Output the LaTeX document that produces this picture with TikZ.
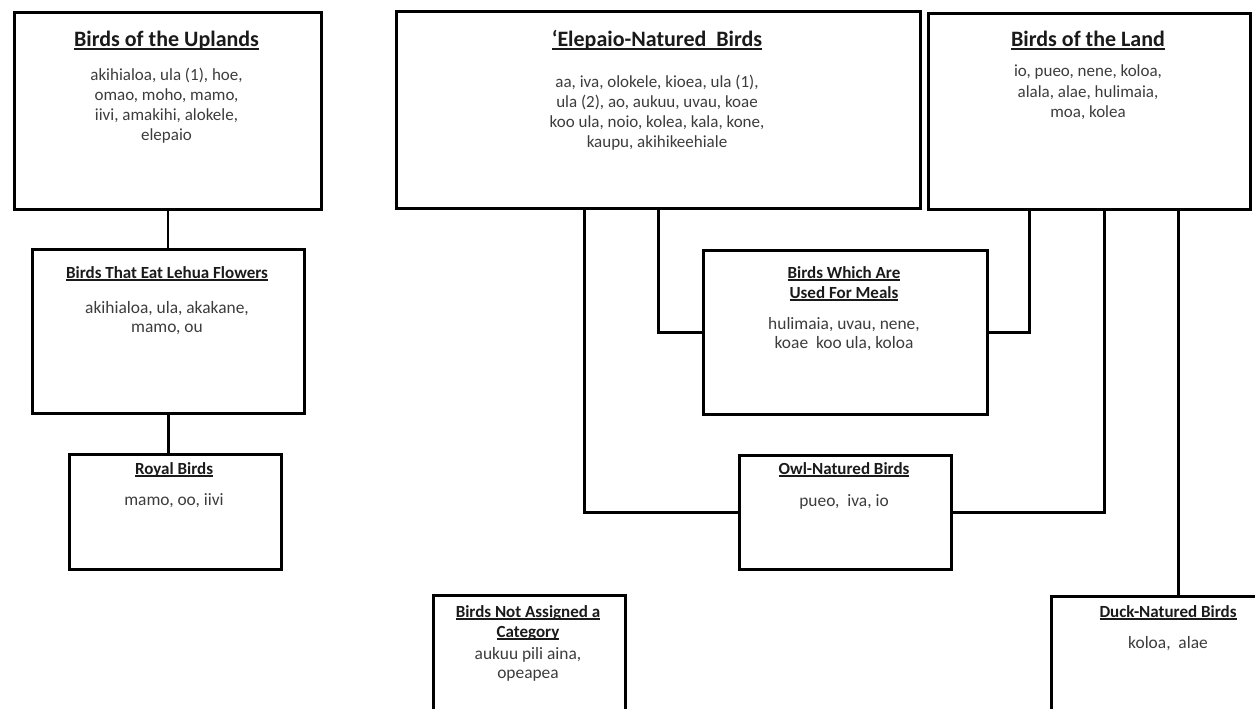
\documentclass[tikz,border=0pt]{standalone}
\usepackage{fontspec}
\setmainfont{Carlito}
\definecolor{bodygray}{HTML}{3C3C3C}
\definecolor{titleblack}{HTML}{1A1A1A}
\newcommand\myul[1]{\setbox0=\hbox{#1}\rlap{\rule[-2.6pt]{\wd0}{1.3pt}}\box0}
\tikzset{
  box/.style={draw=black, line width=2.8pt, rectangle, inner sep=0pt, anchor=north west},
  conn/.style={draw=black, line width=2.8pt},
  bigtitle/.style={font=\fontsize{22}{26}\selectfont\bfseries, text=titleblack, inner sep=0pt, anchor=base, align=center},
  smalltitle/.style={font=\fontsize{17}{20}\selectfont\bfseries, text=titleblack, inner sep=0pt, anchor=base, align=center},
  bodytext/.style={font=\fontsize{17}{20}\selectfont, text=bodygray, inner sep=0pt, anchor=base, align=center},
  smallbody/.style={font=\fontsize{17.4}{19}\selectfont, text=bodygray, inner sep=0pt, anchor=base, align=center},
}
\begin{document}
\begin{tikzpicture}[x=1pt,y=-1pt]
\useasboundingbox (0,0) rectangle (1255,709);
\clip (0,0) rectangle (1255,709);

% boxes
\node[box, minimum width=307pt, minimum height=197pt] (up) at (13,11) {};
\node[box, minimum width=524pt, minimum height=197pt] (el) at (395,10) {};
\node[box, minimum width=322pt, minimum height=196pt] (land) at (927,12) {};
\node[box, minimum width=272pt, minimum height=164pt] (leh) at (31,248) {};
\node[box, minimum width=212pt, minimum height=115pt] (roy) at (68,453) {};
\node[box, minimum width=284pt, minimum height=164pt] (meal) at (702,249) {};
\node[box, minimum width=212pt, minimum height=114pt] (owl) at (738,454) {};
\node[box, minimum width=192pt, minimum height=170pt] (na) at (432,594) {};
\node[box, minimum width=260pt, minimum height=170pt] (duck) at (1050,595) {};

% texts (anchor=base is the baseline of the last line)
\node[bigtitle] (upT) at (166.5,47) {\myul{Birds of the Uplands}};
\node[bodytext] (upB) at (166.5,140) {akihialoa, ula (1), hoe,\\omao, moho, mamo,\\iivi, amakihi, alokele,\\elepaio};

\node[bigtitle] (elT) at (657,47) {\myul{‘Elepaio-Natured~ Birds}};
\node[bodytext] (elB) at (657,147) {aa, iva, olokele, kioea, ula (1),\\ula (2), ao, aukuu, uvau, koae\\koo ula, noio, kolea, kala, kone,\\kaupu, akihikeehiale};

\node[bigtitle] (landT) at (1088,47) {\myul{Birds of the Land}};
\node[bodytext] (landB) at (1088,117) {io, pueo, nene, koloa,\\alala, alae, hulimaia,\\moa, kolea};

\node[smalltitle] (lehT) at (167,278) {\myul{Birds That Eat Lehua Flowers}};
\node[smallbody] (lehB) at (167,332) {akihialoa, ula, akakane,\\mamo, ou};

\node[smalltitle] (royT) at (174,474) {\myul{Royal Birds}};
\node[smallbody] (royB) at (174,505) {mamo, oo, iivi};

\node[smalltitle] (mealT) at (844,298) {\myul{Birds Which Are}\\\myul{Used For Meals}};
\node[smallbody] (mealB) at (844,348) {hulimaia, uvau, nene,\\koae~ koo ula, koloa};

\node[smalltitle] (owlT) at (844,474) {\myul{Owl-Natured Birds}};
\node[smallbody] (owlB) at (844,506) {pueo,~ iva, io};

\node[smalltitle] (naT) at (528,637) {\myul{Birds Not Assigned a}\\\myul{Category}};
\node[smallbody] (naB) at (528,678) {aukuu pili aina,\\opeapea};

\node[smalltitle] (duckT) at (1168,617) {\myul{Duck-Natured Birds}};
\node[smallbody] (duckB) at (1168,648) {koloa,~ alae};

% connectors
\draw[conn] (up.south) -- (up.south |- leh.north);
\draw[conn] (leh.south) -- (leh.south |- roy.north);
\draw[conn] (el.south) |- (meal.west);
\draw[conn] ([xshift=-74pt]el.south) |- (owl.west);
\draw[conn] ([xshift=-60pt]land.south) |- (meal.east);
\draw[conn] ([xshift=15pt]land.south) |- (owl.east);
\draw[conn] ([xshift=89pt]land.south) -- ([xshift=89pt]land.south |- duck.north);
\end{tikzpicture}
\end{document}
